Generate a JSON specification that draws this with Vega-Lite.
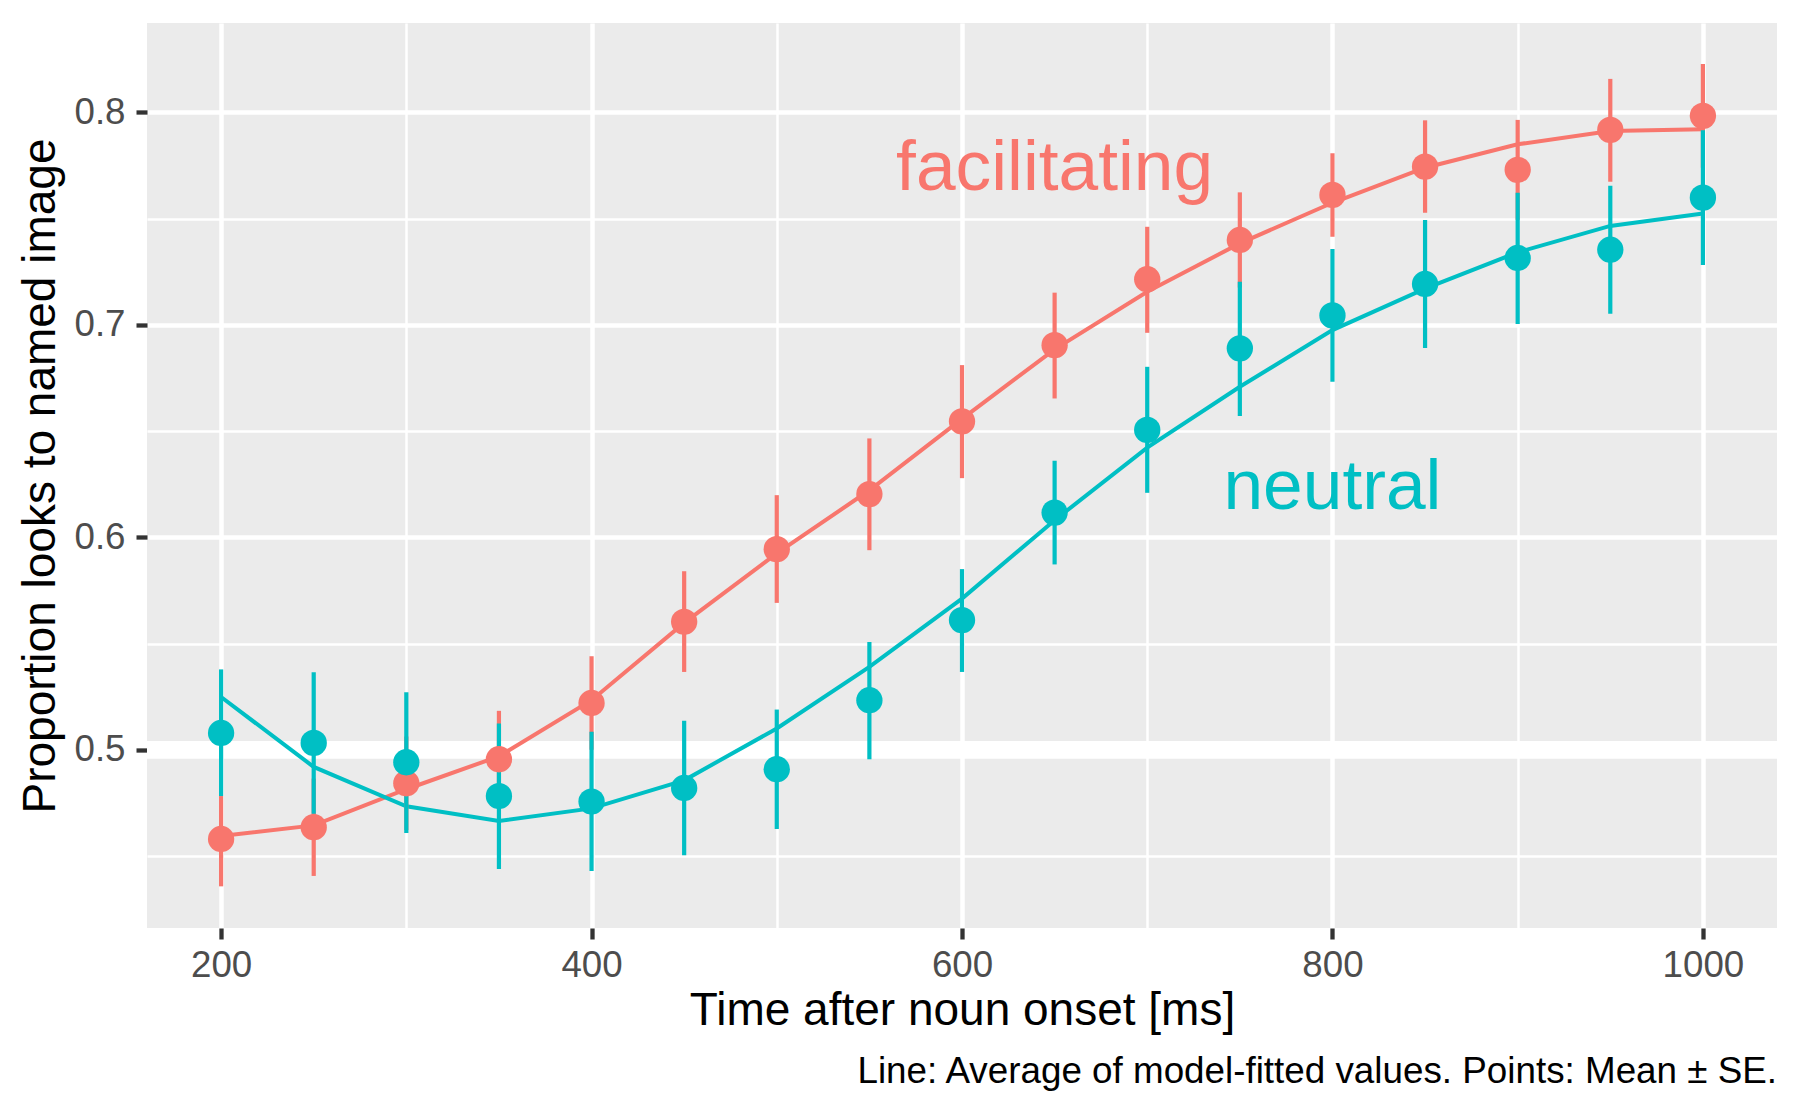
{
  "$schema": "https://vega.github.io/schema/vega-lite/v6.json",
  "width": 1630,
  "height": 905,
  "autosize": {"type": "none"},
  "padding": {"left": 147, "top": 23, "right": 23, "bottom": 184},
  "background": "white",
  "config": {
    "view": {"fill": "#EBEBEB", "stroke": null},
    "font": "Liberation Sans"
  },
  "title": {
    "text": "Line: Average of model-fitted values. Points: Mean ± SE.",
    "orient": "bottom",
    "anchor": "end",
    "frame": "group",
    "fontSize": 36.8,
    "font": "Liberation Sans",
    "fontWeight": "normal",
    "color": "#000000",
    "offset": 20
  },
  "datasets": {
    "obs": [
      {"time": 200, "condition": "facilitating", "mean": 0.4581, "lo": 0.4358, "hi": 0.4783, "fit": 0.4595},
      {"time": 250, "condition": "facilitating", "mean": 0.4636, "lo": 0.4407, "hi": 0.4865, "fit": 0.4645},
      {"time": 300, "condition": "facilitating", "mean": 0.4843, "lo": 0.4623, "hi": 0.5063, "fit": 0.4815},
      {"time": 350, "condition": "facilitating", "mean": 0.4956, "lo": 0.4730, "hi": 0.5184, "fit": 0.4970},
      {"time": 400, "condition": "facilitating", "mean": 0.5221, "lo": 0.5001, "hi": 0.5441, "fit": 0.5234},
      {"time": 450, "condition": "facilitating", "mean": 0.5603, "lo": 0.5367, "hi": 0.5841, "fit": 0.5598},
      {"time": 500, "condition": "facilitating", "mean": 0.5945, "lo": 0.5692, "hi": 0.6199, "fit": 0.5925},
      {"time": 550, "condition": "facilitating", "mean": 0.6204, "lo": 0.5940, "hi": 0.6466, "fit": 0.6222},
      {"time": 600, "condition": "facilitating", "mean": 0.6546, "lo": 0.6279, "hi": 0.6811, "fit": 0.6558},
      {"time": 650, "condition": "facilitating", "mean": 0.6905, "lo": 0.6654, "hi": 0.7152, "fit": 0.6885},
      {"time": 700, "condition": "facilitating", "mean": 0.7215, "lo": 0.6963, "hi": 0.7462, "fit": 0.7156},
      {"time": 750, "condition": "facilitating", "mean": 0.7400, "lo": 0.7176, "hi": 0.7624, "fit": 0.7384},
      {"time": 800, "condition": "facilitating", "mean": 0.7612, "lo": 0.7415, "hi": 0.7808, "fit": 0.7575},
      {"time": 850, "condition": "facilitating", "mean": 0.7745, "lo": 0.7528, "hi": 0.7963, "fit": 0.7740},
      {"time": 900, "condition": "facilitating", "mean": 0.7730, "lo": 0.7495, "hi": 0.7965, "fit": 0.7850},
      {"time": 950, "condition": "facilitating", "mean": 0.7918, "lo": 0.7674, "hi": 0.8158, "fit": 0.7913},
      {"time": 1000, "condition": "facilitating", "mean": 0.7984, "lo": 0.7740, "hi": 0.8228, "fit": 0.7921},
      {"time": 200, "condition": "neutral", "mean": 0.5080, "lo": 0.4783, "hi": 0.5379, "fit": 0.5249},
      {"time": 250, "condition": "neutral", "mean": 0.5033, "lo": 0.4700, "hi": 0.5366, "fit": 0.4920},
      {"time": 300, "condition": "neutral", "mean": 0.4942, "lo": 0.4609, "hi": 0.5272, "fit": 0.4735},
      {"time": 350, "condition": "neutral", "mean": 0.4783, "lo": 0.4440, "hi": 0.5124, "fit": 0.4666},
      {"time": 400, "condition": "neutral", "mean": 0.4757, "lo": 0.4430, "hi": 0.5085, "fit": 0.4725},
      {"time": 450, "condition": "neutral", "mean": 0.4821, "lo": 0.4504, "hi": 0.5137, "fit": 0.4857},
      {"time": 500, "condition": "neutral", "mean": 0.4909, "lo": 0.4628, "hi": 0.5190, "fit": 0.5101},
      {"time": 550, "condition": "neutral", "mean": 0.5234, "lo": 0.4956, "hi": 0.5508, "fit": 0.5391},
      {"time": 600, "condition": "neutral", "mean": 0.5611, "lo": 0.5367, "hi": 0.5851, "fit": 0.5712},
      {"time": 650, "condition": "neutral", "mean": 0.6117, "lo": 0.5873, "hi": 0.6361, "fit": 0.6081},
      {"time": 700, "condition": "neutral", "mean": 0.6506, "lo": 0.6210, "hi": 0.6803, "fit": 0.6423},
      {"time": 750, "condition": "neutral", "mean": 0.6890, "lo": 0.6572, "hi": 0.7203, "fit": 0.6709},
      {"time": 800, "condition": "neutral", "mean": 0.7045, "lo": 0.6733, "hi": 0.7357, "fit": 0.6976},
      {"time": 850, "condition": "neutral", "mean": 0.7193, "lo": 0.6891, "hi": 0.7494, "fit": 0.7171},
      {"time": 900, "condition": "neutral", "mean": 0.7315, "lo": 0.7004, "hi": 0.7622, "fit": 0.7342},
      {"time": 950, "condition": "neutral", "mean": 0.7354, "lo": 0.7053, "hi": 0.7655, "fit": 0.7466},
      {"time": 1000, "condition": "neutral", "mean": 0.7599, "lo": 0.7282, "hi": 0.7916, "fit": 0.7524}
    ],
    "labels": [
      {"label": "facilitating", "condition": "facilitating", "time": 650, "value": 0.7635},
      {"label": "neutral", "condition": "neutral", "time": 800, "value": 0.6133}
    ]
  },
  "encoding": {
    "x": {
      "field": "time",
      "type": "quantitative",
      "scale": {"domain": [160, 1040], "nice": false, "zero": false},
      "axis": {
        "title": "Time after noun onset [ms]",
        "titleFont": "Liberation Sans",
        "titleFontSize": 46,
        "titleFontWeight": "normal",
        "titleColor": "#000000",
        "titlePadding": 5,
        "values": [200, 300, 400, 500, 600, 700, 800, 900, 1000],
        "labelExpr": "datum.value % 200 === 0 ? format(datum.value, 'd') : ''",
        "labelFont": "Liberation Sans",
        "labelFontSize": 36.7,
        "labelColor": "#4D4D4D",
        "labelPadding": 8,
        "domain": false,
        "tickColor": "#333333",
        "tickSize": 11,
        "tickWidth": 4.3,
        "tickOpacity": {"condition": {"test": "datum.value % 200 === 0", "value": 1}, "value": 0},
        "grid": true,
        "gridColor": "#FFFFFF",
        "gridWidth": {"condition": {"test": "datum.value % 200 === 0", "value": 4.5}, "value": 2.5}
      }
    },
    "y": {
      "type": "quantitative",
      "scale": {"domain": [0.4162, 0.8421], "nice": false, "zero": false},
      "axis": {
        "title": "Proportion looks to named image",
        "titleFont": "Liberation Sans",
        "titleFontSize": 46,
        "titleFontWeight": "normal",
        "titleColor": "#000000",
        "titlePadding": 9,
        "values": [0.45, 0.5, 0.55, 0.6, 0.65, 0.7, 0.75, 0.8],
        "labelExpr": "round(datum.value*100) % 10 === 0 ? format(datum.value, '.1f') : ''",
        "labelFont": "Liberation Sans",
        "labelFontSize": 36.7,
        "labelColor": "#4D4D4D",
        "labelPadding": 11,
        "domain": false,
        "tickColor": "#333333",
        "tickSize": 11,
        "tickWidth": 4.3,
        "tickOpacity": {"condition": {"test": "round(datum.value*100) % 10 === 0", "value": 1}, "value": 0},
        "grid": true,
        "gridColor": "#FFFFFF",
        "gridWidth": {"condition": {"test": "round(datum.value*100) % 10 === 0", "value": 4.5}, "value": 2.5}
      }
    },
    "color": {
      "field": "condition",
      "type": "nominal",
      "scale": {"domain": ["facilitating", "neutral"], "range": ["#F8766D", "#00BFC4"]},
      "legend": null
    }
  },
  "layer": [
    {
      "data": {"values": [{"ref": 0.5}]},
      "mark": {"type": "rule", "color": "#FFFFFF", "strokeWidth": 17.7},
      "encoding": {"y": {"field": "ref", "type": "quantitative"}, "x": null, "color": null}
    },
    {
      "data": {"name": "obs"},
      "mark": {"type": "line", "strokeWidth": 4},
      "encoding": {"y": {"field": "fit", "type": "quantitative"}}
    },
    {
      "data": {"name": "obs"},
      "mark": {"type": "rule", "strokeWidth": 4.2},
      "encoding": {"y": {"field": "lo", "type": "quantitative"}, "y2": {"field": "hi"}}
    },
    {
      "data": {"name": "obs"},
      "mark": {"type": "circle", "size": 693, "opacity": 1, "strokeWidth": 0},
      "encoding": {"y": {"field": "mean", "type": "quantitative"}}
    },
    {
      "data": {"name": "labels"},
      "mark": {"type": "text", "fontSize": 71.3, "font": "Liberation Sans", "align": "center", "baseline": "alphabetic"},
      "encoding": {
        "y": {"field": "value", "type": "quantitative"},
        "text": {"field": "label", "type": "nominal"}
      }
    }
  ]
}
